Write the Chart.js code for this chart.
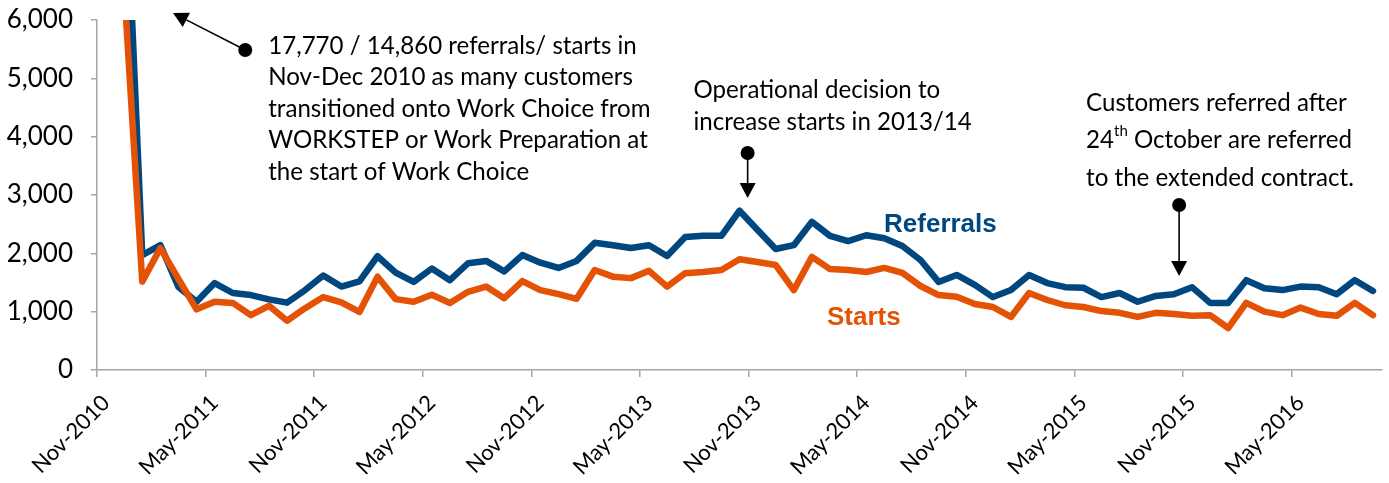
<!DOCTYPE html>
<html>
<head>
<meta charset="utf-8">
<script src="https://cdn.jsdelivr.net/npm/chart.js@4/dist/chart.umd.min.js"></script>
<style>
  html, body { margin: 0; padding: 0; background: #fff; }
  #wrap { width: 1389px; height: 483px; }
</style>
</head>
<body>
<div id="wrap"><canvas id="chart"></canvas></div>
<script>
// monthly figures, Nov-2010 (index 0) to Sep-2016 (index 70)
const referrals = [
  8600, 9170, 1970, 2140, 1425, 1170, 1490, 1320, 1285, 1210, 1155,
  1370, 1620, 1430, 1520, 1950, 1670, 1510, 1740, 1540, 1830,
  1870, 1690, 1970, 1840, 1750, 1870, 2180, 2140, 2090, 2140,
  1955, 2280, 2300, 2300, 2730, 2400, 2075, 2140, 2540, 2300,
  2210, 2310, 2260, 2125, 1885, 1510, 1630, 1460, 1250, 1370,
  1630, 1490, 1420, 1410, 1250, 1320, 1170, 1270, 1300, 1420,
  1150, 1150, 1540, 1400, 1370, 1430, 1420, 1300, 1540, 1355
];
const starts = [
  8300, 6560, 1515, 2090, 1560, 1040, 1170, 1150, 940, 1100, 845,
  1060, 1250, 1160, 995, 1600, 1215, 1170, 1290, 1150, 1340,
  1430, 1230, 1525, 1370, 1300, 1220, 1715, 1600, 1575, 1700,
  1430, 1660, 1680, 1715, 1900, 1850, 1800, 1370, 1940, 1730,
  1715, 1680, 1750, 1665, 1440, 1285, 1255, 1130, 1080, 910,
  1320, 1200, 1110, 1080, 1010, 980, 910, 980, 960, 930,
  940, 720, 1150, 1000, 940, 1070, 960, 930, 1150, 940
];
// x-axis tick labels, one every 6 months starting at Nov-2010
const tickLabels = ['Nov-2010', 'May-2011', 'Nov-2011', 'May-2012', 'Nov-2012', 'May-2013',
  'Nov-2013', 'May-2014', 'Nov-2014', 'May-2015', 'Nov-2015', 'May-2016'];

const BLUE = '#00467f';
const ORANGE = '#e35205';
const TXT_FONT = 'Lato, "Open Sans", sans-serif';

// points sit in the middle of their month
const toPoints = arr => arr.map((v, i) => ({ x: i + 0.5, y: v }));

// annotations, placed in data units (month index, value)
const notes = [
  { x: 9.46, y: 5554, lh: 31.5, lines: [
    ['17,770 / 14,860 referrals/ starts in'],
    ['Nov-Dec 2010 as many customers'],
    ['transitioned onto Work Choice from'],
    ['WORKSTEP or Work Preparation at'],
    ['the start of Work Choice']] },
  { x: 32.96, y: 4800, lh: 32, lines: [
    ['Operational decision to'],
    ['increase starts in 2013/14']] },
  { x: 54.65, y: 4577, lh: 37.5, lines: [
    ['Customers referred after'],
    ['24', 'th', ' October are referred'],
    ['to the extended contract.']] }
];
const arrows = [
  { from: [8.19, 5486], to: [4.2, 6120] },
  { from: [35.95, 3720], to: [35.95, 2949] },
  { from: [59.79, 2829], to: [59.79, 1612] }
];
const seriesLabels = [
  { text: 'Referrals', color: BLUE, x: 46.6, y: 2486 },
  { text: 'Starts', color: ORANGE, x: 42.37, y: 891 }
];

const annotate = {
  id: 'annotate',
  afterDraw(chart) {
    const { ctx, scales: { x, y } } = chart;
    ctx.save();
    // arrows: dot at the start, filled head at the end
    ctx.strokeStyle = '#000';
    ctx.fillStyle = '#000';
    ctx.lineWidth = 1.6;
    arrows.forEach(a => {
      const x0 = x.getPixelForValue(a.from[0]), y0 = y.getPixelForValue(a.from[1]);
      const x1 = x.getPixelForValue(a.to[0]), y1 = y.getPixelForValue(a.to[1]);
      const ang = Math.atan2(y1 - y0, x1 - x0);
      const head = 15, half = 8;
      const bx = x1 - head * Math.cos(ang), by = y1 - head * Math.sin(ang);
      ctx.beginPath();
      ctx.moveTo(x0, y0);
      ctx.lineTo(bx, by);
      ctx.stroke();
      ctx.beginPath();
      ctx.moveTo(x1, y1);
      ctx.lineTo(bx + half * Math.sin(ang), by - half * Math.cos(ang));
      ctx.lineTo(bx - half * Math.sin(ang), by + half * Math.cos(ang));
      ctx.closePath();
      ctx.fill();
      ctx.beginPath();
      ctx.arc(x0, y0, 7, 0, Math.PI * 2);
      ctx.fill();
    });
    // note text
    const size = 24.1;
    ctx.textBaseline = 'middle';
    ctx.textAlign = 'left';
    notes.forEach(n => {
      const left = x.getPixelForValue(n.x);
      const top = y.getPixelForValue(n.y);
      n.lines.forEach((parts, li) => {
        let px = left;
        const py = top + li * n.lh;
        parts.forEach((p, pi) => {
          const sup = parts.length > 1 && pi === 1;
          ctx.font = (sup ? Math.round(size * 0.62) : size) + 'px ' + TXT_FONT;
          ctx.fillText(p, px, sup ? py - size * 0.38 : py);
          px += ctx.measureText(p).width;
        });
      });
    });
    // series labels
    ctx.textAlign = 'center';
    ctx.font = 'bold 26px "Liberation Sans", Arial, sans-serif';
    seriesLabels.forEach(s => {
      ctx.fillStyle = s.color;
      ctx.fillText(s.text, x.getPixelForValue(s.x), y.getPixelForValue(s.y));
    });
    ctx.restore();
  }
};

new Chart(document.getElementById('chart'), {
  type: 'line',
  data: {
    datasets: [
      { label: 'Referrals', data: toPoints(referrals), borderColor: BLUE, order: 2 },
      { label: 'Starts', data: toPoints(starts), borderColor: ORANGE, order: 1 }
    ]
  },
  options: {
    responsive: true,
    maintainAspectRatio: false,
    animation: false,
    layout: { padding: { top: 20, right: 7, left: 0, bottom: 0 } },
    elements: {
      line: { borderWidth: 6.5, tension: 0, borderJoinStyle: 'round', borderCapStyle: 'round', fill: false },
      point: { radius: 0, hoverRadius: 0 }
    },
    plugins: { legend: { display: false }, tooltip: { enabled: false } },
    scales: {
      x: {
        type: 'linear',
        min: 0,
        max: 71,
        afterFit: s => { s.height = 113; },
        grid: { display: true, drawOnChartArea: false, drawTicks: true, tickLength: 7, color: '#a6a6a6', lineWidth: 1.5 },
        border: { display: true, color: '#a6a6a6', width: 1.5 },
        ticks: {
          stepSize: 6,
          includeBounds: false,
          autoSkip: false,
          minRotation: 45,
          maxRotation: 45,
          padding: 13,
          labelOffset: 9,
          color: '#000',
          font: { family: TXT_FONT, size: 22 },
          callback: v => tickLabels[v / 6]
        }
      },
      y: {
        min: 0,
        max: 6000,
        afterFit: s => { s.width = 97; s.paddingTop = 0; s.paddingBottom = 0; },
        grid: { display: true, drawOnChartArea: false, drawTicks: true, tickLength: 6, color: '#a6a6a6', lineWidth: 1.5 },
        border: { display: true, color: '#a6a6a6', width: 1.5 },
        ticks: {
          stepSize: 1000,
          padding: 18,
          color: '#000',
          font: { family: TXT_FONT, size: 26 },
          callback: v => v.toLocaleString('en-US')
        }
      }
    }
  },
  plugins: [annotate]
});
</script>
</body>
</html>
